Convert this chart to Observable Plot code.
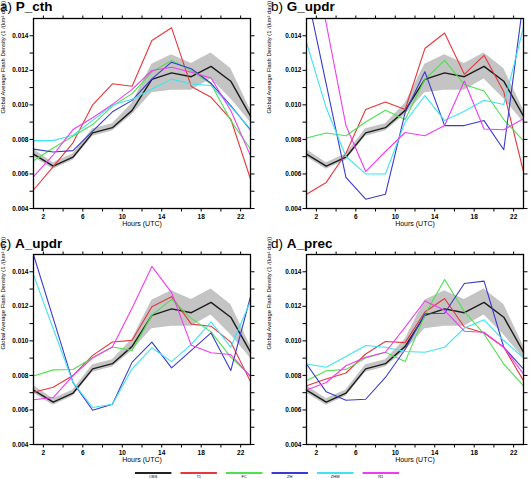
<!DOCTYPE html>
<html>
<head>
<meta charset="utf-8">
<script src="https://cdn.jsdelivr.net/npm/d3@7"></script>
<script src="https://cdn.jsdelivr.net/npm/@observablehq/plot@0.6"></script>
<style>
  html, body { margin: 0; padding: 0; background: #fff; }
  #fig { position: relative; width: 531px; height: 479px; overflow: hidden;
         font-family: "Liberation Sans", Arial, Helvetica, sans-serif; }
  .panel { position: absolute; }
  .title { position: absolute; font-size: 13.5px; line-height: 13.5px; white-space: nowrap; color: #000; }
  .title b { font-weight: bold; }
  #legend { position: absolute; left: 0; top: 462px; }
</style>
</head>
<body>
<div id="fig"></div>
<script>
// Diurnal cycle of global average flash density, hourly bins centred on odd UTC hours
const hours = [1, 3, 5, 7, 9, 11, 13, 15, 17, 19, 21, 23];

// Observations and their spread
const obs   = [0.00715, 0.00645, 0.00697, 0.00838, 0.00868, 0.00968, 0.01148, 0.01185, 0.01163, 0.01223, 0.01137, 0.00935];
const obsLo = [0.00698, 0.00627, 0.00680, 0.00818, 0.00848, 0.00943, 0.01070, 0.01085, 0.01085, 0.01150, 0.01035, 0.00900];
const obsHi = [0.00742, 0.00665, 0.00715, 0.00862, 0.00890, 0.01010, 0.01235, 0.01290, 0.01240, 0.01300, 0.01210, 0.00970];

// Model runs
const modelNames  = ["T1", "FC", "ZH", "ZHW", "R1"];
const modelColors = ["#e6373c", "#4ee04e", "#3a3ad0", "#3ee4f0", "#f03cf0"];

// a) P_cth
const pcthT1  = [0.00507, 0.00643, 0.00780, 0.01000, 0.01122, 0.01108, 0.01373, 0.01446, 0.01106, 0.01044, 0.00918, 0.00570];
const pcthFC  = [0.00676, 0.00750, 0.00818, 0.00886, 0.00993, 0.01065, 0.01190, 0.01257, 0.01199, 0.01121, 0.00909, 0.00744];
const pcthZH  = [0.00744, 0.00727, 0.00735, 0.00848, 0.00960, 0.01026, 0.01150, 0.01247, 0.01209, 0.01125, 0.00996, 0.00855];
const pcthZHW = [0.00793, 0.00793, 0.00824, 0.00910, 0.00999, 0.01032, 0.01092, 0.01149, 0.01121, 0.01112, 0.00990, 0.00860];
const pcthR1  = [0.00585, 0.00711, 0.00857, 0.00925, 0.01003, 0.01090, 0.01199, 0.01218, 0.01189, 0.01156, 0.00967, 0.00706];

// b) G_updr
const gupdrT1  = [0.00482, 0.00551, 0.00720, 0.00973, 0.01017, 0.00973, 0.01326, 0.01416, 0.01177, 0.01287, 0.01076, 0.00612];
const gupdrFC  = [0.00808, 0.00837, 0.00821, 0.00901, 0.00969, 0.00915, 0.01148, 0.01258, 0.01118, 0.01080, 0.00915, 0.00792];
const gupdrZH  = [0.01660, 0.01120, 0.00580, 0.00454, 0.00482, 0.00955, 0.01192, 0.00880, 0.00880, 0.00909, 0.00740, 0.01610];
const gupdrZHW = [0.01361, 0.00983, 0.00701, 0.00600, 0.00600, 0.00900, 0.01054, 0.00909, 0.00963, 0.01027, 0.01002, 0.01449];
const gupdrR1  = [0.02000, 0.01470, 0.00880, 0.00614, 0.00730, 0.00840, 0.00821, 0.00880, 0.01138, 0.00860, 0.00856, 0.00920];

// c) A_updr
const aupdrT1  = [0.00702, 0.00731, 0.00799, 0.00916, 0.00993, 0.01003, 0.01198, 0.01256, 0.01097, 0.01085, 0.00993, 0.00764];
const aupdrFC  = [0.00797, 0.00832, 0.00834, 0.00902, 0.00964, 0.00945, 0.01149, 0.01240, 0.01130, 0.01052, 0.00906, 0.00797];
const aupdrZH  = [0.01499, 0.01130, 0.00760, 0.00598, 0.00633, 0.00877, 0.00993, 0.00844, 0.00945, 0.01046, 0.00828, 0.01256];
const aupdrZHW = [0.01382, 0.01070, 0.00760, 0.00614, 0.00633, 0.00838, 0.00960, 0.00880, 0.00980, 0.01110, 0.00964, 0.01230];
const aupdrR1  = [0.00659, 0.00672, 0.00799, 0.00902, 0.00964, 0.01190, 0.01431, 0.01279, 0.00974, 0.00931, 0.00921, 0.00793];

// d) A_prec
const aprecT1  = [0.00740, 0.00779, 0.00814, 0.00924, 0.00996, 0.00990, 0.01167, 0.01245, 0.01080, 0.01045, 0.00963, 0.00769];
const aprecFC  = [0.00769, 0.00827, 0.00835, 0.00901, 0.00934, 0.00880, 0.01150, 0.01355, 0.01170, 0.01040, 0.00866, 0.00740];
const aprecZH  = [0.00866, 0.00705, 0.00656, 0.00662, 0.00788, 0.00950, 0.01157, 0.01160, 0.01332, 0.01346, 0.00963, 0.00837];
const aprecZHW = [0.00866, 0.00847, 0.00909, 0.00973, 0.00963, 0.00938, 0.00934, 0.00963, 0.01074, 0.01122, 0.01002, 0.00901];
const aprecR1  = [0.00715, 0.00759, 0.00856, 0.00905, 0.00934, 0.01080, 0.01231, 0.01177, 0.01056, 0.01050, 0.00963, 0.00808];

// Axis ticks and labels
const xTicks      = [2, 4, 6, 8, 10, 12, 14, 16, 18, 20, 22];
const xTickLabels = [2, 6, 10, 14, 18, 22];
const yTicks      = [0.004, 0.005, 0.006, 0.007, 0.008, 0.009, 0.010, 0.011, 0.012, 0.013, 0.014];
const yTickLabels = [0.004, 0.006, 0.008, 0.010, 0.012, 0.014];
const xTitle = "Hours (UTC)";
const yTitle = "Global Average Flash Density (1 /(km\u00B2 day))";

const panels = [
  {letter: "a)", name: "P_cth",  runs: [pcthT1, pcthFC, pcthZH, pcthZHW, pcthR1]},
  {letter: "b)", name: "G_updr", runs: [gupdrT1, gupdrFC, gupdrZH, gupdrZHW, gupdrR1]},
  {letter: "c)", name: "A_updr", runs: [aupdrT1, aupdrFC, aupdrZH, aupdrZHW, aupdrR1]},
  {letter: "d)", name: "A_prec", runs: [aprecT1, aprecFC, aprecZH, aprecZHW, aprecR1]}
];

// Layout of the 2x2 grid
const layout = [
  {left: 0,   top: 0,   width: 265, marginLeft: 33, marginRight: 15, labelDx: -30.5, titleX: 0,   titleY: 0},
  {left: 265, top: 0,   width: 266, marginLeft: 41, marginRight: 8,  labelDx: -37,   titleX: 271, titleY: 0},
  {left: 0,   top: 236, width: 265, marginLeft: 33, marginRight: 15, labelDx: -30.5, titleX: 0,   titleY: 237},
  {left: 265, top: 236, width: 266, marginLeft: 41, marginRight: 8,  labelDx: -37,   titleX: 271, titleY: 237}
];

const fig = document.getElementById("fig");
const fmtY = d3.format(".3f");
const font = "'Liberation Sans', Arial, Helvetica, sans-serif";

panels.forEach((p, i) => {
  const L = layout[i];
  const band = hours.map((h, j) => ({hour: h, value: obs[j], lo: obsLo[j], hi: obsHi[j]}));
  const rows = [];
  modelNames.forEach((name, k) => p.runs[k].forEach((v, j) => rows.push({series: name, hour: hours[j], value: v})));

  const chart = Plot.plot({
    width: L.width,
    height: 235,
    marginLeft: L.marginLeft,
    marginRight: L.marginRight,
    marginTop: 18,
    marginBottom: 27,
    x: {domain: [1, 23], label: null},
    y: {domain: [0.004, 0.015], label: null},
    color: {domain: modelNames, range: modelColors},
    style: {fontFamily: font, background: "transparent", overflow: "visible"},
    marks: [
      Plot.areaY(band, {x: "hour", y1: "lo", y2: "hi", fill: "#c4c4c4"}),
      Plot.line(band, {x: "hour", y: "value", stroke: "#1c1c1c", strokeWidth: 1.4}),
      Plot.line(rows, {x: "hour", y: "value", z: "series", stroke: "series", strokeWidth: 1.1, clip: true}),
      Plot.frame({stroke: "#000", strokeWidth: 1.3}),
      Plot.axisX({anchor: "bottom", ticks: xTicks, tickSize: 3.5, tickPadding: 2.5,
                  tickFormat: d => xTickLabels.includes(d) ? String(d) : "",
                  fontSize: 6.5, fontWeight: "bold", label: null}),
      Plot.axisX({anchor: "top", ticks: xTicks, tickSize: 3.5, tickFormat: () => "", label: null}),
      Plot.axisY({anchor: "left", ticks: yTicks, tickSize: 3.5, tickPadding: 1.5,
                  tickFormat: d => yTickLabels.includes(d) ? fmtY(d) : "",
                  fontSize: 6.5, fontWeight: "bold", label: null}),
      Plot.axisY({anchor: "right", ticks: yTicks, tickSize: 3.5, tickFormat: () => "", label: null}),
      Plot.text([xTitle], {text: d => d, frameAnchor: "bottom", dy: 17.7, fontSize: 7}),
      Plot.text([yTitle], {text: d => d, frameAnchor: "left", dx: L.labelDx, rotate: -90, fontSize: 5.8})
    ]
  });
  chart.classList.add("panel");
  chart.style.left = L.left + "px";
  chart.style.top = L.top + "px";
  fig.appendChild(chart);

  const t = document.createElement("div");
  t.className = "title";
  t.style.left = L.titleX + "px";
  t.style.top = L.titleY + "px";
  t.innerHTML = p.letter + " <b>" + p.name + "</b>";
  fig.appendChild(t);
});

// Legend strip along the bottom
const legendNames  = ["OBS", ...modelNames];
const legendColors = ["#222222", ...modelColors];
const legendX = d3.scaleBand().domain(legendNames).range([135, 399]).paddingInner(0.2);
const lg = d3.select(fig).append("svg")
  .attr("id", "legend").attr("width", 531).attr("height", 17);
lg.selectAll("line").data(legendNames).join("line")
  .attr("x1", d => legendX(d)).attr("x2", d => legendX(d) + legendX.bandwidth())
  .attr("y1", 11).attr("y2", 11)
  .attr("stroke", (d, i) => legendColors[i]).attr("stroke-width", 1.8);
lg.selectAll("text").data(legendNames).join("text")
  .attr("x", d => legendX(d) + legendX.bandwidth() / 2).attr("y", 16)
  .attr("text-anchor", "middle").attr("font-size", 4).attr("font-family", font)
  .text(d => d);
</script>
</body>
</html>
